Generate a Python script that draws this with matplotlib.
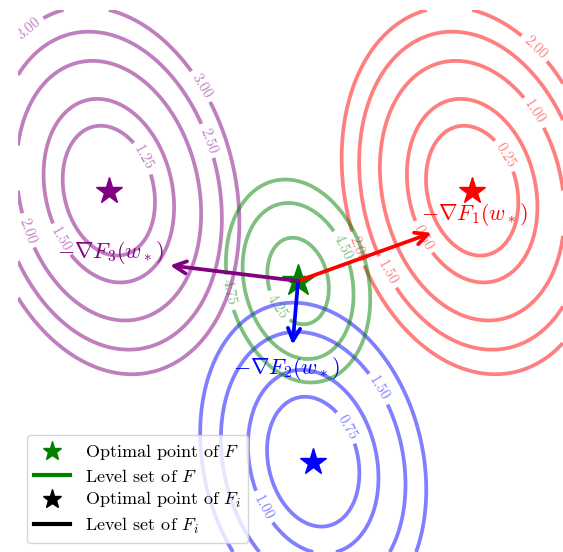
import numpy as np
import matplotlib.pyplot as plt
from matplotlib.lines import Line2D

plt.rcParams['font.family'] = 'serif'
plt.rcParams['font.serif'] = ['cmr10', 'DejaVu Serif']
plt.rcParams['mathtext.fontset'] = 'cm'
plt.rcParams['axes.unicode_minus'] = False

# shared Hessian of the local quadratics F_i
hess = np.array([[2.0, 0.25], [0.25, 1.0]])

# optimal points and minimum values of F_1, F_2, F_3
centers = np.array([[2.0, 1.0], [0.25, -2.0], [-2.0, 1.0]])
min_vals = [0.0, 0.5, 1.0]
colors = ['red', 'blue', 'purple']
grad_labels = [r'$-\nabla F_1(w_*)$', r'$-\nabla F_2(w_*)$', r'$-\nabla F_3(w_*)$']

levels_i = [[0.25, 0.5, 1.0, 1.5, 2.0],
            [0.75, 1.0, 1.5, 2.0],
            [1.25, 1.5, 2.0, 2.5, 3.0]]
levels_F = [4.25, 4.5, 4.75]

# where the contour labels sit (data coords)
label_spots = [
    [(2.38, 1.40), (1.45, 0.48), (2.69, 1.87), (1.07, 0.10), (2.72, 2.61), (0.69, 0.34)],
    [(0.62, -1.62), (-0.31, -2.51), (1.01, -1.17)],
    [(-1.66, 1.34), (-2.54, 0.45), (-2.89, 0.56), (-0.89, 1.56), (-0.96, 2.17), (-2.87, 2.78)],
]
label_spots_F = [(-0.15, -0.29), (0.58, 0.38), (-0.69, -0.13)]

arrow_scale = 0.36
text_pos = [(2.03, 0.74), (-0.04, -0.97), (-1.98, 0.32)]


def quad(X, Y, c, b):
    dx = X - c[0]
    dy = Y - c[1]
    return 0.5 * (hess[0, 0] * dx**2 + 2 * hess[0, 1] * dx * dy + hess[1, 1] * dy**2) + b


x = np.linspace(-3, 3, 500)
y = np.linspace(-3, 3, 500)
X, Y = np.meshgrid(x, y)

Zs = [quad(X, Y, centers[i], min_vals[i]) for i in range(3)]
ZF = sum(Zs) / 3
w_star = centers.mean(axis=0)

fig = plt.figure(figsize=(5.63, 5.52), dpi=100)
ax = fig.add_axes([18 / 563, 0, 545 / 563, 542 / 552])

for i in range(3):
    cs = ax.contour(X, Y, Zs[i], levels=levels_i[i], colors=colors[i], alpha=0.5, linewidths=2.7)
    ax.clabel(cs, manual=label_spots[i], inline=True, fontsize=10.5, fmt='%.2f')
    ax.plot(centers[i, 0], centers[i, 1], '*', color=colors[i], ms=20, zorder=4)

cs = ax.contour(X, Y, ZF, levels=levels_F, colors='green', alpha=0.5, linewidths=2.7)
ax.clabel(cs, manual=label_spots_F, inline=True, fontsize=10.5, fmt='%.2f')
ax.plot(w_star[0], w_star[1], '*', color='green', ms=24, zorder=4)

for i in range(3):
    g = hess @ (centers[i] - w_star)  # -grad F_i(w*)
    tip = w_star + arrow_scale * g
    ax.annotate('', xy=tip, xytext=w_star,
                arrowprops=dict(arrowstyle='->', color=colors[i], lw=2.7,
                                shrinkA=0, shrinkB=0, mutation_scale=22),
                zorder=5)
    ax.text(text_pos[i][0], text_pos[i][1], grad_labels[i], color=colors[i],
            fontsize=16, ha='center', va='center', zorder=6)

handles = [
    Line2D([], [], marker='*', color='green', ls='none', ms=14),
    Line2D([], [], color='green', lw=3),
    Line2D([], [], marker='*', color='black', ls='none', ms=14),
    Line2D([], [], color='black', lw=3),
]
names = ['Optimal point of $F$', 'Level set of $F$',
         'Optimal point of $F_i$', 'Level set of $F_i$']
ax.legend(handles, names, loc='lower left', fontsize=13, labelspacing=0.3)

ax.set_xlim(-3, 3)
ax.set_ylim(-3, 3)
ax.axis('off')

fig.savefig('out.png', dpi=100)
